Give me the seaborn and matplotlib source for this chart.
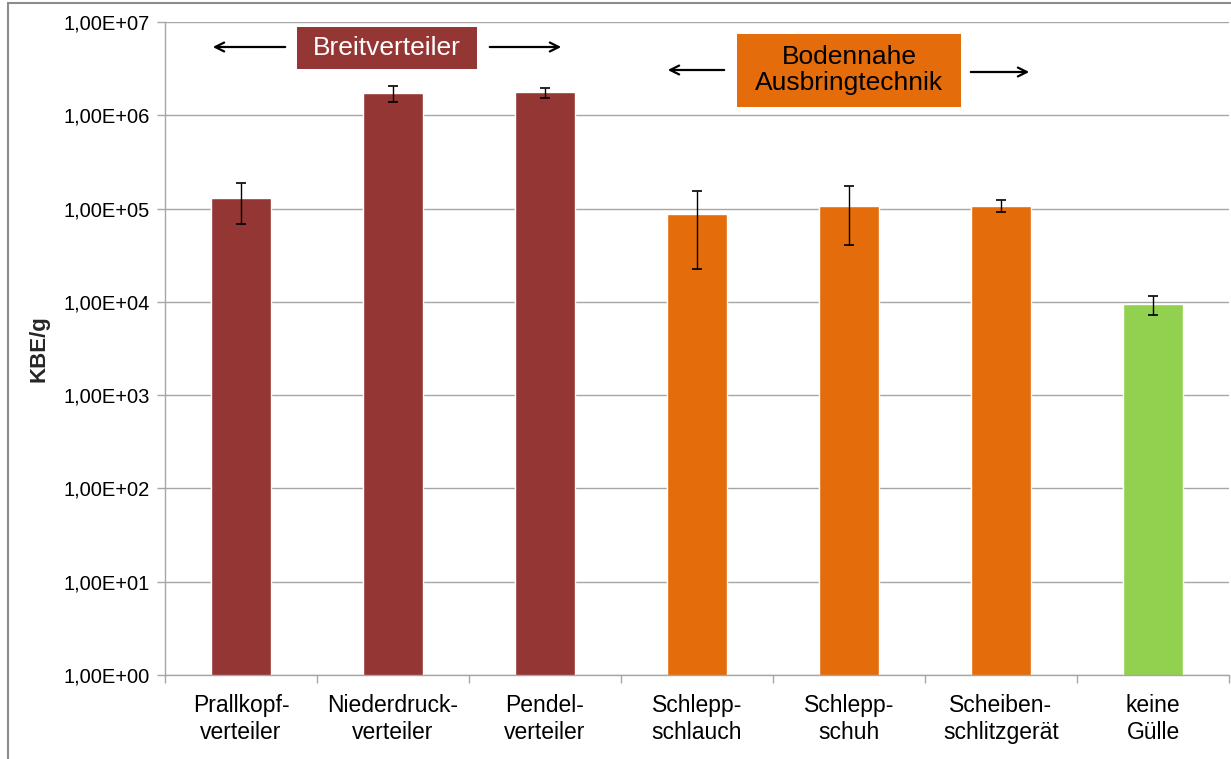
import numpy as np
import pandas as pd
import seaborn as sns
import matplotlib.pyplot as plt
from matplotlib.patches import Rectangle, FancyArrowPatch
from matplotlib.ticker import FixedLocator, FuncFormatter

categories = ["Prallkopf-\nverteiler", "Niederdruck-\nverteiler", "Pendel-\nverteiler",
              "Schlepp-\nschlauch", "Schlepp-\nschuh", "Scheiben-\nschlitzgerät", "keine\nGülle"]
values = [1.29e5, 1.72e6, 1.76e6, 8.8e4, 1.07e5, 1.07e5, 9.5e3]
err_low = [6.9e4, 1.40e6, 1.55e6, 2.24e4, 4.1e4, 9.1e4, 7.3e3]
err_high = [1.9e5, 2.07e6, 1.94e6, 1.53e5, 1.75e5, 1.23e5, 1.16e4]
colors = ["#943634", "#943634", "#943634", "#E46C0A", "#E46C0A", "#E46C0A", "#92D050"]

sns.set_theme(style="white")
plt.rcParams["font.family"] = ["Liberation Sans", "DejaVu Sans"]

W, H = 1231, 759
fig = plt.figure(figsize=(W / 100, H / 100), dpi=100)
ax = fig.add_axes([165 / W, 1 - 675 / H, (1229 - 165) / W, (675 - 22) / H])

df = pd.DataFrame({"cat": categories, "val": values})
sns.barplot(data=df, x="cat", y="val", hue="cat", palette=colors, legend=False,
            width=0.395, saturation=1, ax=ax)
ax.set_yscale("log")
ax.set_ylim(1, 1e7)
ax.set_xlim(-0.5, len(categories) - 0.5)

vals = np.array(values)
yerr = [vals - np.array(err_low), np.array(err_high) - vals]
ax.errorbar(np.arange(len(categories)), vals, yerr=yerr, fmt="none",
            ecolor="black", elinewidth=1, capsize=3.5, capthick=1.2, zorder=5)

# axes styling
grid_c = "#a6a6a6"
ax.yaxis.set_major_locator(FixedLocator([10.0 ** k for k in range(8)]))
ax.yaxis.set_minor_locator(FixedLocator([]))
ax.yaxis.set_major_formatter(FuncFormatter(lambda v, p: f"1,00E+{int(round(np.log10(v))):02d}"))
ax.yaxis.grid(True, color=grid_c, linewidth=1)
ax.set_axisbelow(True)
for s in ["top", "right"]:
    ax.spines[s].set_visible(False)
for s in ["left", "bottom"]:
    ax.spines[s].set_color(grid_c)
    ax.spines[s].set_linewidth(1)
ax.tick_params(axis="y", which="major", left=True, length=6, width=1, color=grid_c,
               labelsize=14.5, labelcolor="black", pad=5)
ax.set_xticks(range(len(categories)))
ax.set_xticklabels(categories, fontsize=16.5, linespacing=1.2)
ax.set_xticks(np.arange(-0.5, len(categories)), minor=True)
ax.tick_params(axis="x", which="major", bottom=False, length=0, pad=14, labelcolor="black")
ax.tick_params(axis="x", which="minor", bottom=True, length=6, width=1, color=grid_c)
ax.set_xlabel("")
ax.set_ylabel("KBE/g", fontsize=16, fontweight="bold", labelpad=10)


def fx(x):
    return x / W


def fy(y):
    return 1 - y / H


# outer chart border
fig.add_artist(Rectangle((fx(8), fy(1000)), 2, fy(3) - fy(1000), transform=fig.transFigure,
                         fill=False, edgecolor="#8c8c8c", linewidth=1.5))

# group boxes
fig.add_artist(Rectangle((fx(297), fy(69)), fx(477) - fx(297), fy(27) - fy(69),
                         transform=fig.transFigure, facecolor="#943634", edgecolor="none"))
fig.text(fx(387), fy(48), "Breitverteiler", color="white", fontsize=19, ha="center", va="center")
fig.add_artist(Rectangle((fx(737), fy(107)), fx(961) - fx(737), fy(34) - fy(107),
                         transform=fig.transFigure, facecolor="#E46C0A", edgecolor="none"))
fig.text(fx(849), fy(70), "Bodennahe\nAusbringtechnik", color="black", fontsize=19,
         ha="center", va="center", linespacing=1.1)

for x0, x1, y in [(288, 210, 47), (487, 564, 47), (727, 665, 70), (968, 1032, 72)]:
    fig.add_artist(FancyArrowPatch((fx(x0), fy(y)), (fx(x1), fy(y)), transform=fig.transFigure,
                                   arrowstyle="->", mutation_scale=16, color="black", linewidth=1.6))

fig.savefig("out.png", dpi=100)
